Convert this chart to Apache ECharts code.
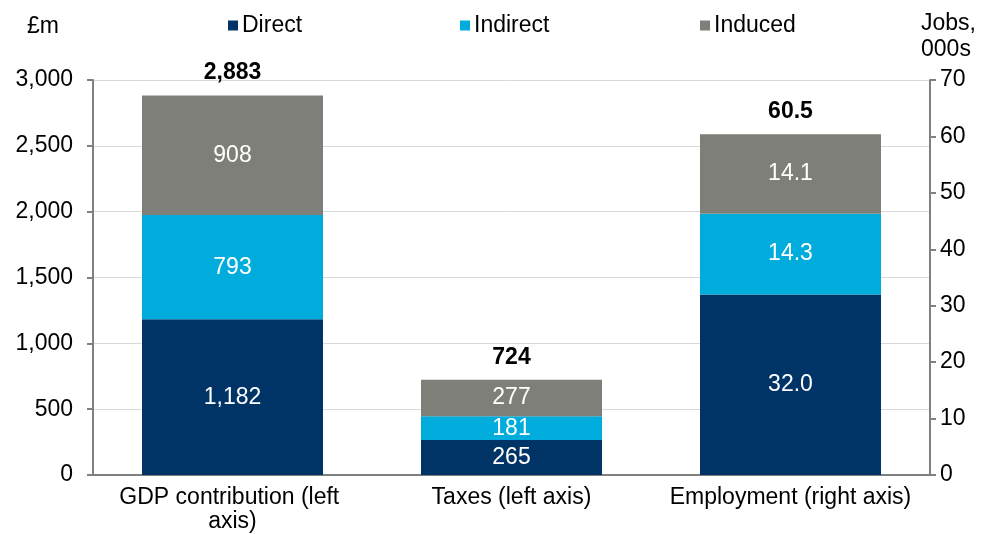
<!DOCTYPE html>
<html>
<head>
<meta charset="utf-8">
<script src="https://cdn.jsdelivr.net/npm/echarts@6/dist/echarts.min.js"></script>
<style>html,body{margin:0;padding:0;background:#fff}#c{width:981px;height:534px}</style>
</head>
<body>
<div id="c"></div>
<script>
const categories = ['GDP contribution (left axis)', 'Taxes (left axis)', 'Employment (right axis)'];
const directVals = [1182, 265, 32.0];
const indirectVals = [793, 181, 14.3];
const inducedVals = [908, 277, 14.1];
const totals = [2883, 724, 60.5];
const leftTicks = {min: 0, max: 3000, interval: 500};
const rightTicks = {min: 0, max: 70, interval: 10};

const FONT = '"Liberation Sans", Arial, Helvetica, sans-serif';
const FS = 23;
const colors = {Direct: '#003466', Indirect: '#00ACDC', Induced: '#7F7F79'};
const fmtNum = (v, i) => i === 2 ? Number(v).toFixed(1) : Number(v).toLocaleString('en-GB');

function leftOnly(arr) { return arr.map((v, i) => i < 2 ? v : '-'); }
function rightOnly(arr) { return arr.map((v, i) => i === 2 ? v : '-'); }

const segs = [['Direct', directVals], ['Indirect', indirectVals], ['Induced', inducedVals]];
const series = [];
segs.forEach(([name, vals]) => {
  [['L', 0, leftOnly(vals)], ['R', 1, rightOnly(vals)]].forEach(([s, ax, d]) => {
    series.push({
      name: name, type: 'bar', stack: 'stack' + s, yAxisIndex: ax,
      data: d, barWidth: 181, barGap: '-100%',
      itemStyle: {color: colors[name]},
      label: {show: true, position: 'inside', color: '#fff', fontFamily: FONT, fontSize: FS,
        formatter: p => fmtNum(p.value, p.dataIndex)}
    });
  });
});
[['L', 0, totals.map((v, i) => i < 2 ? 0 : '-')], ['R', 1, totals.map((v, i) => i === 2 ? 0 : '-')]].forEach(([s, ax, d]) => {
  series.push({
    name: 'Total', type: 'bar', stack: 'stack' + s, yAxisIndex: ax,
    data: d, barWidth: 181, barGap: '-100%',
    itemStyle: {color: 'transparent'},
    label: {show: true, position: 'top', distance: 11, color: '#000', fontWeight: 'bold', fontFamily: FONT, fontSize: FS,
      formatter: p => fmtNum(totals[p.dataIndex], p.dataIndex)}
  });
});

function legendFor(name, left) {
  return {data: [name], left: left, top: 14, itemWidth: 10, itemHeight: 10, padding: 0, itemGap: 0,
    icon: 'rect', textStyle: {fontFamily: FONT, fontSize: FS, color: '#000', padding: [0, 0, 0, -1]}};
}

const chart = echarts.init(document.getElementById('c'), null, {renderer: 'canvas'});
chart.setOption({
  animation: false,
  color: [colors.Direct, colors.Indirect, colors.Induced],
  legend: [legendFor('Direct', 228), legendFor('Indirect', 460), legendFor('Induced', 700)],
  grid: {left: 93, right: 51, top: 80, bottom: 59, containLabel: false, outerBoundsMode: 'none'},
  xAxis: {
    type: 'category', data: categories,
    axisLine: {lineStyle: {color: '#808080', width: 2}},
    axisTick: {show: false},
    axisLabel: {interval: 0, margin: 11, color: '#000', fontFamily: FONT, fontSize: FS, lineHeight: 24,
      width: 255, overflow: 'break'}
  },
  yAxis: [
    {type: 'value', min: leftTicks.min, max: leftTicks.max, interval: leftTicks.interval,
      axisLine: {show: true, lineStyle: {color: '#808080', width: 2}},
      axisTick: {show: true, length: 6, lineStyle: {color: '#808080', width: 2}},
      splitLine: {lineStyle: {color: '#D9D9D9', width: 1}},
      axisLabel: {margin: 20, color: '#000', fontFamily: FONT, fontSize: FS,
        formatter: v => Number(v).toLocaleString('en-GB')}},
    {type: 'value', min: rightTicks.min, max: rightTicks.max, interval: rightTicks.interval, position: 'right',
      axisLine: {show: true, lineStyle: {color: '#808080', width: 2}},
      axisTick: {show: true, length: 6, lineStyle: {color: '#808080', width: 2}},
      splitLine: {show: false},
      axisLabel: {margin: 10, color: '#000', fontFamily: FONT, fontSize: FS}}
  ],
  graphic: [
    {type: 'text', left: 27, top: 15, style: {text: '£m', fontFamily: FONT, fontSize: FS, fill: '#000'}},
    {type: 'text', right: 5, top: 11, style: {text: 'Jobs,\n000s', fontFamily: FONT, fontSize: FS, fill: '#000', align: 'right', lineHeight: 26}}
  ],
  series: series
});
</script>
</body>
</html>
